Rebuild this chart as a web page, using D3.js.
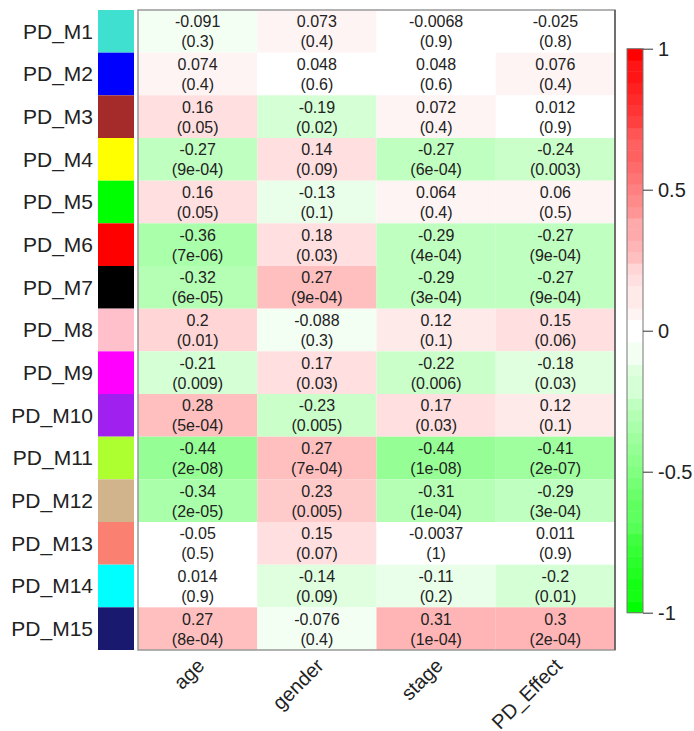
<!DOCTYPE html>
<html>
<head>
	<meta charset="utf-8">
	<title>Module-trait relationships</title>
	<script src="https://d3js.org/d3.v7.min.js"></script>
	<style>
		body { margin: 0; background: #fff; }
		text { font-family: 'Liberation Sans', Arial, sans-serif; fill: #222; }
		.cell text { font-size: 16px; }
		.rowlab { font-size: 21px; }
		.collab, .legend text { font-size: 20px; }
	</style>
</head>
<body>
<script>
	// modules (rows) and traits (columns)
	var modules = ["PD_M1", "PD_M2", "PD_M3", "PD_M4", "PD_M5", "PD_M6", "PD_M7", "PD_M8",
		"PD_M9", "PD_M10", "PD_M11", "PD_M12", "PD_M13", "PD_M14", "PD_M15"];
	var moduleColors = ["turquoise", "blue", "brown", "yellow", "lime", "red", "black", "pink",
		"magenta", "#a020f0", "greenyellow", "tan", "salmon", "cyan", "midnightblue"];
	var traits = ["age", "gender", "stage", "PD_Effect"];

	// correlations, one row per module
	var cors = [
		[-0.091, 0.073, -0.0068, -0.025],
		[0.074, 0.048, 0.048, 0.076],
		[0.16, -0.19, 0.072, 0.012],
		[-0.27, 0.14, -0.27, -0.24],
		[0.16, -0.13, 0.064, 0.06],
		[-0.36, 0.18, -0.29, -0.27],
		[-0.32, 0.27, -0.29, -0.27],
		[0.2, -0.088, 0.12, 0.15],
		[-0.21, 0.17, -0.22, -0.18],
		[0.28, -0.23, 0.17, 0.12],
		[-0.44, 0.27, -0.44, -0.41],
		[-0.34, 0.23, -0.31, -0.29],
		[-0.05, 0.15, -0.0037, 0.011],
		[0.014, -0.14, -0.11, -0.2],
		[0.27, -0.076, 0.31, 0.3]
	];
	// p-values as printed
	var pvals = [
		["0.3", "0.4", "0.9", "0.8"],
		["0.4", "0.6", "0.6", "0.4"],
		["0.05", "0.02", "0.4", "0.9"],
		["9e-04", "0.09", "6e-04", "0.003"],
		["0.05", "0.1", "0.4", "0.5"],
		["7e-06", "0.03", "4e-04", "9e-04"],
		["6e-05", "9e-04", "3e-04", "9e-04"],
		["0.01", "0.3", "0.1", "0.06"],
		["0.009", "0.03", "0.006", "0.03"],
		["5e-04", "0.005", "0.03", "0.1"],
		["2e-08", "7e-04", "1e-08", "2e-07"],
		["2e-05", "0.005", "1e-04", "3e-04"],
		["0.5", "0.07", "1", "0.9"],
		["0.9", "0.09", "0.2", "0.01"],
		["8e-04", "0.4", "1e-04", "2e-04"]
	];
	var legendTicks = [-1, -0.5, 0, 0.5, 1];

	var W = 694, H = 731;
	var svg = d3.select("body").append("svg")
		.attr("width", W)
		.attr("height", H);

	var x = d3.scaleBand().domain(traits).range([138, 615]);
	var y = d3.scaleBand().domain(modules).range([10, 650]);

	// green-white-red palette, stepped like WGCNA's greenWhiteRed(50)
	var steps = 24;
	function corColor(r) {
		var t = Math.max(0, (Math.abs(r) - 0.04) / 0.96);
		t = Math.round(t * steps) / steps;
		var end = r < 0 ? "#00ff00" : "#ff0000";
		return d3.interpolateRgb("#ffffff", end)(t);
	}

	var cells = [];
	modules.forEach(function(m, i) {
		traits.forEach(function(t, j) {
			cells.push({module: m, trait: t, r: cors[i][j], p: pvals[i][j]});
		});
	});

	// module colour strip
	svg.append("g").selectAll("rect")
		.data(modules)
		.enter()
		.append("rect")
		.attr("x", 98)
		.attr("width", 36)
		.attr("y", function(d) { return y(d); })
		.attr("height", y.bandwidth())
		.style("fill", function(d, i) { return moduleColors[i]; });

	svg.append("g").selectAll("text")
		.data(modules)
		.enter()
		.append("text")
		.attr("class", "rowlab")
		.attr("x", 93)
		.attr("y", function(d) { return y(d) + y.bandwidth() / 2; })
		.attr("dy", "0.35em")
		.attr("text-anchor", "end")
		.text(function(d) { return d; });

	// heatmap cells
	var cell = svg.append("g").selectAll(".cell")
		.data(cells)
		.enter()
		.append("g")
		.attr("class", "cell");

	cell.append("rect")
		.attr("x", function(d) { return x(d.trait); })
		.attr("y", function(d) { return y(d.module); })
		.attr("width", x.bandwidth())
		.attr("height", y.bandwidth())
		.style("fill", function(d) { return corColor(d.r); });

	cell.append("text")
		.attr("x", function(d) { return x(d.trait) + x.bandwidth() / 2; })
		.attr("y", function(d) { return y(d.module) + y.bandwidth() / 2 - 9.5; })
		.attr("dy", "0.35em")
		.attr("text-anchor", "middle")
		.text(function(d) { return String(d.r); });

	cell.append("text")
		.attr("x", function(d) { return x(d.trait) + x.bandwidth() / 2; })
		.attr("y", function(d) { return y(d.module) + y.bandwidth() / 2 + 10.5; })
		.attr("dy", "0.35em")
		.attr("text-anchor", "middle")
		.text(function(d) { return "(" + d.p + ")"; });

	// frame
	svg.append("rect")
		.attr("x", x.range()[0])
		.attr("y", y.range()[0])
		.attr("width", x.range()[1] - x.range()[0])
		.attr("height", y.range()[1] - y.range()[0])
		.style("fill", "none")
		.style("stroke", "#999")
		.style("stroke-width", 1.5);
	svg.append("line")
		.attr("x1", x.range()[1]).attr("x2", x.range()[1])
		.attr("y1", y.range()[0]).attr("y2", y.range()[1])
		.style("stroke", "#444")
		.style("stroke-width", 1.2);

	// column labels
	svg.append("g").selectAll("text")
		.data(traits)
		.enter()
		.append("text")
		.attr("class", "collab")
		.attr("text-anchor", "end")
		.attr("transform", function(d) {
			return "translate(" + (x(d) + x.bandwidth() / 2 + 8) + ",667) rotate(-45)";
		})
		.text(function(d) { return d; });

	// colour legend
	var ly = d3.scaleLinear().domain([-1, 1]).range([612.7, 48.7]);
	var nBins = 50;
	var bins = d3.range(nBins).map(function(i) { return -1 + (i + 0.5) * 2 / nBins; });
	var legend = svg.append("g").attr("class", "legend");
	legend.selectAll("rect")
		.data(bins)
		.enter()
		.append("rect")
		.attr("x", 627)
		.attr("width", 16)
		.attr("y", function(d) { return ly(d + 1 / nBins); })
		.attr("height", ly(-1) - ly(-1 + 2 / nBins) + 0.5)
		.style("fill", function(d) { return corColor(d); });
	legend.append("rect")
		.attr("x", 627)
		.attr("width", 16)
		.attr("y", ly(1))
		.attr("height", ly(-1) - ly(1))
		.style("fill", "none")
		.style("stroke", "#777")
		.style("stroke-width", 1);

	var axis = d3.axisRight(ly)
		.tickValues(legendTicks)
		.tickSize(10)
		.tickPadding(5)
		.tickFormat(function(d) { return String(d); });
	legend.append("g")
		.attr("transform", "translate(643,0)")
		.call(axis)
		.call(function(g) { g.select(".domain").remove(); })
		.call(function(g) {
			g.selectAll("text").style("font-size", "20px").style("fill", "#222")
				.style("font-family", "'Liberation Sans', Arial, sans-serif");
			g.selectAll("line").style("stroke", "#333");
		});
</script>
</body>
</html>
